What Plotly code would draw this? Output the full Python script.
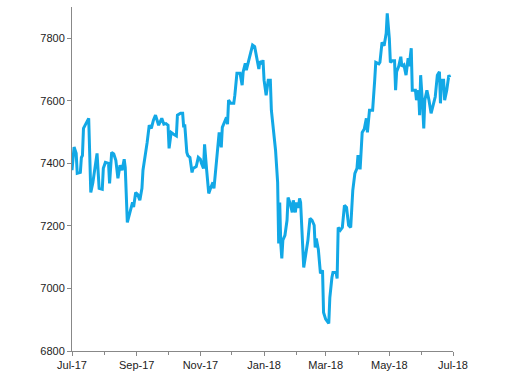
import plotly.graph_objects as go

dates = [
    "2017-07-01", "2017-07-03", "2017-07-05", "2017-07-06", "2017-07-09", "2017-07-10", "2017-07-11", "2017-07-12",
    "2017-07-17", "2017-07-19", "2017-07-21", "2017-07-25", "2017-07-27", "2017-07-30", "2017-07-31",
    "2017-08-02", "2017-08-05", "2017-08-06", "2017-08-08", "2017-08-10", "2017-08-12", "2017-08-14", "2017-08-16",
    "2017-08-18", "2017-08-20", "2017-08-21", "2017-08-23", "2017-08-26", "2017-08-28", "2017-08-29", "2017-08-31",
    "2017-09-02", "2017-09-04", "2017-09-06", "2017-09-07", "2017-09-11", "2017-09-13", "2017-09-15", "2017-09-17",
    "2017-09-19", "2017-09-21", "2017-09-22", "2017-09-25", "2017-09-27", "2017-09-29",
    "2017-10-01", "2017-10-02", "2017-10-04", "2017-10-06", "2017-10-08", "2017-10-09", "2017-10-10", "2017-10-13",
    "2017-10-15", "2017-10-16", "2017-10-17", "2017-10-19", "2017-10-20", "2017-10-22", "2017-10-24", "2017-10-25",
    "2017-10-28", "2017-10-30",
    "2017-11-01", "2017-11-02", "2017-11-04", "2017-11-05", "2017-11-07", "2017-11-09", "2017-11-11", "2017-11-13",
    "2017-11-14", "2017-11-16", "2017-11-18", "2017-11-19", "2017-11-21", "2017-11-22", "2017-11-24", "2017-11-26",
    "2017-11-27", "2017-11-28", "2017-11-30",
    "2017-12-03", "2017-12-04", "2017-12-06", "2017-12-09", "2017-12-11", "2017-12-12", "2017-12-14", "2017-12-15",
    "2017-12-17", "2017-12-19", "2017-12-21", "2017-12-23", "2017-12-24", "2017-12-26", "2017-12-27", "2017-12-28",
    "2017-12-30", "2017-12-31",
    "2018-01-01", "2018-01-03", "2018-01-05", "2018-01-07", "2018-01-08", "2018-01-12", "2018-01-14", "2018-01-15",
    "2018-01-16", "2018-01-17", "2018-01-18", "2018-01-19", "2018-01-21", "2018-01-23", "2018-01-24", "2018-01-26",
    "2018-01-28", "2018-01-29", "2018-01-31",
    "2018-02-01", "2018-02-03", "2018-02-04", "2018-02-05", "2018-02-08", "2018-02-10", "2018-02-12", "2018-02-14",
    "2018-02-16", "2018-02-18", "2018-02-19", "2018-02-20", "2018-02-22", "2018-02-24", "2018-02-26", "2018-02-27",
    "2018-03-01", "2018-03-04", "2018-03-05", "2018-03-07", "2018-03-08", "2018-03-11", "2018-03-12", "2018-03-13",
    "2018-03-15", "2018-03-17", "2018-03-19", "2018-03-21", "2018-03-23", "2018-03-25", "2018-03-27", "2018-03-29",
    "2018-03-31",
    "2018-04-01", "2018-04-03", "2018-04-05", "2018-04-07", "2018-04-09", "2018-04-10", "2018-04-12", "2018-04-15",
    "2018-04-17", "2018-04-18", "2018-04-21", "2018-04-22", "2018-04-24", "2018-04-26", "2018-04-28", "2018-04-29",
    "2018-05-01", "2018-05-02", "2018-05-04", "2018-05-06", "2018-05-07", "2018-05-08", "2018-05-10", "2018-05-12",
    "2018-05-13", "2018-05-15", "2018-05-17", "2018-05-19", "2018-05-20", "2018-05-22", "2018-05-23", "2018-05-26",
    "2018-05-27", "2018-05-29", "2018-05-30", "2018-05-31",
    "2018-06-02", "2018-06-03", "2018-06-04", "2018-06-06", "2018-06-08", "2018-06-10", "2018-06-12", "2018-06-14",
    "2018-06-16", "2018-06-18", "2018-06-19", "2018-06-20", "2018-06-22", "2018-06-23", "2018-06-25", "2018-06-27",
    "2018-06-28",
]

values = [
    7378, 7452, 7432, 7368, 7371, 7419, 7425, 7512,
    7544, 7307, 7339, 7432, 7320, 7317, 7384,
    7403, 7400, 7336, 7435, 7430, 7410, 7352, 7394,
    7378, 7413, 7387, 7211, 7250, 7275, 7260, 7307,
    7300, 7282, 7320, 7378, 7467, 7522, 7512, 7538,
    7554, 7534, 7522, 7544, 7525, 7527,
    7522, 7448, 7499, 7494, 7488, 7488, 7554, 7560,
    7560, 7515, 7525, 7435, 7425, 7419, 7371, 7384,
    7390, 7419,
    7413, 7400, 7384, 7461, 7378, 7304, 7323, 7339,
    7320, 7387, 7451, 7499, 7451, 7515, 7531, 7547,
    7525, 7602, 7592,
    7592, 7618, 7688, 7688, 7650, 7693, 7720, 7698,
    7723, 7755, 7778, 7773, 7755, 7723, 7702, 7726,
    7720, 7730,
    7666, 7618, 7666, 7666, 7570, 7442, 7339, 7144,
    7275, 7144, 7096, 7154, 7170, 7218, 7291, 7272,
    7243, 7282, 7243,
    7275, 7258, 7288, 7275, 7067, 7112, 7154, 7224,
    7218, 7202, 7131, 7160, 7125, 7048, 7058, 6923,
    6902, 6888, 6971, 7035, 7051, 7051, 7032, 7195,
    7186, 7195, 7266, 7259, 7202, 7195, 7314, 7368,
    7384,
    7426, 7381, 7499, 7510, 7544, 7499, 7570, 7570,
    7666, 7723, 7718, 7723, 7787, 7776, 7816, 7880,
    7800, 7723, 7728, 7728, 7634, 7693, 7710, 7741,
    7710, 7715, 7682, 7736, 7710, 7768, 7634, 7634,
    7602, 7634, 7554, 7682,
    7578, 7512, 7602, 7634, 7602, 7560, 7586, 7613,
    7682, 7693, 7592, 7666, 7666, 7602, 7634, 7682,
    7675,
]

fig = go.Figure()
fig.add_trace(go.Scatter(
    x=dates, y=values, mode="lines",
    line=dict(color="#12A8E6", width=3),
    hoverinfo="skip",
))

axis_font = dict(family="Liberation Sans, Arial, sans-serif", size=11, color="#222222")

fig.update_layout(
    width=512, height=378,
    margin=dict(l=72, r=59, t=7, b=27),
    paper_bgcolor="white", plot_bgcolor="white",
    showlegend=False,
    font=axis_font,
)
fig.update_xaxes(
    type="date", automargin=False,
    range=["2017-07-01", "2018-07-01"],
    tick0="2017-07-01", dtick="M2", tickformat="%b-%y",
    ticks="outside", ticklen=4, tickcolor="#888888",
    showline=True, linecolor="#888888", linewidth=1,
    showgrid=False, zeroline=False,
    minor=dict(ticks="outside", dtick="M1", ticklen=3, tickcolor="#888888", showgrid=False),
    tickfont=axis_font,
)
fig.update_yaxes(
    automargin=False,
    range=[6800, 7900],
    tick0=6800, dtick=200,
    ticks="outside", ticklen=4, tickcolor="#888888",
    showline=True, linecolor="#888888", linewidth=1,
    showgrid=False, zeroline=False,
    tickfont=axis_font,
)

fig.write_html(
    "out.html",
    config={"displayModeBar": False},
    post_script="document.body.style.margin='0';document.body.style.overflow='hidden';",
)
